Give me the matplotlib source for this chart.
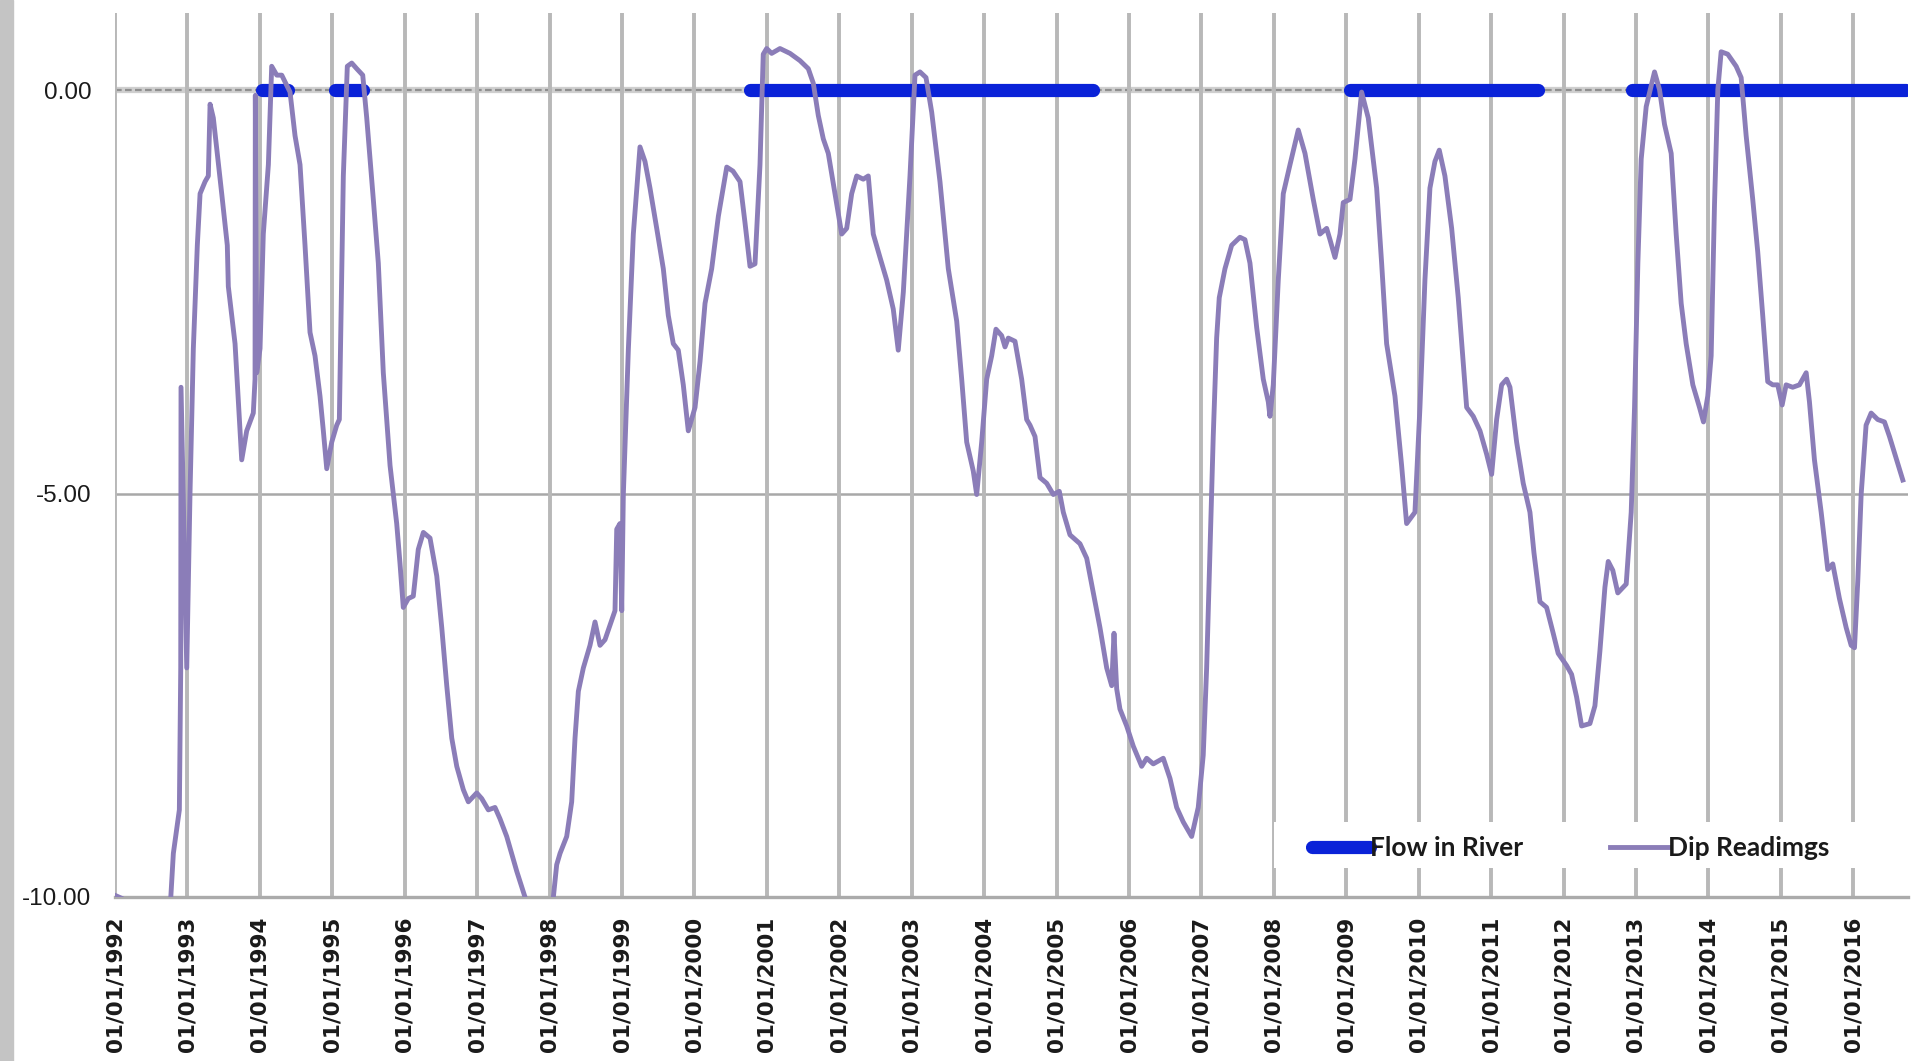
import matplotlib.pyplot as plt
import matplotlib.transforms as mtransforms
from matplotlib.lines import Line2D
from matplotlib.patches import Rectangle

# dip readings (decimal year, level)
dip_years = [
    1992.000, 1992.100, 1992.300, 1992.550, 1992.700, 1992.759, 1992.805, 1992.888,
    1992.907, 1992.911, 1992.990, 1993.035, 1993.081, 1993.136, 1993.174, 1993.243,
    1993.288, 1993.312, 1993.357, 1993.473, 1993.550, 1993.564, 1993.657, 1993.749,
    1993.818, 1993.909, 1993.933, 1993.937, 1993.956, 1994.002, 1994.047, 1994.117,
    1994.163, 1994.233, 1994.302, 1994.416, 1994.485, 1994.554, 1994.623, 1994.692,
    1994.761, 1994.830, 1994.876, 1994.923, 1994.992, 1995.061, 1995.097, 1995.152,
    1995.207, 1995.268, 1995.337, 1995.420, 1995.475, 1995.566, 1995.635, 1995.704,
    1995.797, 1995.889, 1995.935, 1995.980, 1996.049, 1996.118, 1996.187, 1996.257,
    1996.349, 1996.442, 1996.511, 1996.580, 1996.649, 1996.718, 1996.809, 1996.878,
    1996.994, 1997.063, 1997.154, 1997.246, 1997.315, 1997.408, 1997.546, 1997.660,
    1997.800, 1997.940, 1998.052, 1998.098, 1998.144, 1998.236, 1998.305, 1998.351,
    1998.397, 1998.466, 1998.558, 1998.627, 1998.696, 1998.765, 1998.834, 1998.903,
    1998.927, 1998.972, 1998.996, 1999.018, 1999.087, 1999.156, 1999.248, 1999.317,
    1999.386, 1999.479, 1999.570, 1999.639, 1999.708, 1999.777, 1999.846, 1999.915,
    2000.008, 2000.077, 2000.146, 2000.238, 2000.330, 2000.446, 2000.532, 2000.629,
    2000.698, 2000.767, 2000.836, 2000.905, 2000.950, 2000.997, 2001.066, 2001.181,
    2001.319, 2001.457, 2001.572, 2001.641, 2001.710, 2001.779, 2001.848, 2001.941,
    2002.033, 2002.102, 2002.171, 2002.240, 2002.331, 2002.400, 2002.469, 2002.562,
    2002.654, 2002.745, 2002.814, 2002.884, 2002.976, 2003.045, 2003.114, 2003.197,
    2003.276, 2003.390, 2003.505, 2003.621, 2003.690, 2003.759, 2003.850, 2003.897,
    2003.966, 2004.035, 2004.104, 2004.163, 2004.242, 2004.288, 2004.333, 2004.426,
    2004.518, 2004.587, 2004.633, 2004.702, 2004.771, 2004.863, 2004.955, 2005.038,
    2005.093, 2005.185, 2005.323, 2005.416, 2005.507, 2005.599, 2005.692, 2005.761,
    2005.793, 2005.830, 2005.875, 2005.968, 2006.059, 2006.175, 2006.244, 2006.335,
    2006.473, 2006.566, 2006.658, 2006.749, 2006.865, 2006.956, 2007.025, 2007.072,
    2007.118, 2007.163, 2007.210, 2007.246, 2007.325, 2007.417, 2007.532, 2007.601,
    2007.670, 2007.763, 2007.854, 2007.923, 2007.946, 2007.992, 2008.061, 2008.130,
    2008.223, 2008.337, 2008.430, 2008.544, 2008.637, 2008.729, 2008.775, 2008.844,
    2008.913, 2008.958, 2009.051, 2009.120, 2009.212, 2009.303, 2009.419, 2009.488,
    2009.557, 2009.672, 2009.764, 2009.833, 2009.948, 2010.017, 2010.086, 2010.155,
    2010.224, 2010.284, 2010.362, 2010.455, 2010.546, 2010.662, 2010.753, 2010.846,
    2010.938, 2011.007, 2011.076, 2011.145, 2011.214, 2011.260, 2011.352, 2011.443,
    2011.536, 2011.591, 2011.674, 2011.766, 2011.857, 2011.926, 2012.042, 2012.111,
    2012.180, 2012.249, 2012.364, 2012.433, 2012.502, 2012.571, 2012.617, 2012.680,
    2012.749, 2012.865, 2012.934, 2012.980, 2013.026, 2013.072, 2013.141, 2013.256,
    2013.325, 2013.394, 2013.486, 2013.555, 2013.624, 2013.693, 2013.785, 2013.877,
    2013.932, 2013.991, 2014.038, 2014.084, 2014.130, 2014.176, 2014.267, 2014.383,
    2014.452, 2014.521, 2014.612, 2014.681, 2014.750, 2014.819, 2014.888, 2014.957,
    2015.018, 2015.073, 2015.164, 2015.257, 2015.350, 2015.395, 2015.464, 2015.557,
    2015.648, 2015.717, 2015.809, 2015.902, 2015.971, 2016.017, 2016.062, 2016.109,
    2016.177, 2016.247, 2016.338, 2016.431, 2016.500, 2016.598, 2016.684,
]
dip_levels = [
    -9.98, -10.02, -10.8, -11.0, -10.6, -10.17, -9.46, -8.92,
    -7.16, -3.68, -7.16, -5.00, -3.20, -1.92, -1.28, -1.13,
    -1.06, -0.17, -0.34, -1.28, -1.92, -2.43, -3.14, -4.58,
    -4.22, -4.00, -3.58, -0.06, -3.50, -3.20, -1.78, -0.92,
    0.30, 0.19, 0.19, -0.02, -0.56, -0.92, -1.92, -3.00,
    -3.29, -3.79, -4.22, -4.69, -4.36, -4.15, -4.08, -1.06,
    0.30, 0.34, 0.27, 0.19, -0.34, -1.35, -2.14, -3.50,
    -4.65, -5.37, -5.87, -6.41, -6.30, -6.27, -5.69, -5.48,
    -5.55, -6.02, -6.66, -7.38, -8.03, -8.38, -8.67, -8.82,
    -8.71, -8.78, -8.92, -8.89, -9.03, -9.25, -9.68, -10.00,
    -10.40, -10.30, -10.00, -9.60, -9.46, -9.25, -8.82, -8.03,
    -7.45, -7.16, -6.88, -6.59, -6.88, -6.81, -6.63, -6.45,
    -5.44, -5.37, -6.45, -5.01, -3.22, -1.78, -0.70, -0.88,
    -1.21, -1.71, -2.21, -2.79, -3.14, -3.22, -3.65, -4.22,
    -3.93, -3.36, -2.64, -2.21, -1.56, -0.95, -1.00, -1.13,
    -1.64, -2.18, -2.15, -0.92, 0.45, 0.52, 0.46, 0.52,
    0.46, 0.37, 0.27, 0.09, -0.31, -0.60, -0.78, -1.28,
    -1.78, -1.71, -1.28, -1.06, -1.10, -1.06, -1.78, -2.07,
    -2.35, -2.71, -3.22, -2.50, -1.06, 0.19, 0.23, 0.16,
    -0.27, -1.13, -2.21, -2.86, -3.58, -4.36, -4.72, -5.01,
    -4.36, -3.58, -3.29, -2.96, -3.04, -3.18, -3.07, -3.11,
    -3.58, -4.08, -4.15, -4.29, -4.80, -4.87, -5.01, -4.97,
    -5.23, -5.51, -5.62, -5.80, -6.23, -6.66, -7.16, -7.38,
    -6.73, -7.42, -7.67, -7.88, -8.13, -8.38, -8.28, -8.35,
    -8.28, -8.53, -8.89, -9.07, -9.25, -8.89, -8.24, -7.16,
    -5.73, -4.29, -3.07, -2.57, -2.21, -1.92, -1.82, -1.85,
    -2.14, -2.94, -3.58, -3.86, -4.04, -3.65, -2.35, -1.28,
    -0.92, -0.49, -0.78, -1.35, -1.78, -1.71, -1.85, -2.07,
    -1.78, -1.39, -1.35, -0.85, -0.02, -0.34, -1.21, -2.14,
    -3.14, -3.79, -4.65, -5.37, -5.23, -3.93, -2.35, -1.21,
    -0.88, -0.74, -1.06, -1.71, -2.57, -3.93, -4.04, -4.22,
    -4.51, -4.76, -4.08, -3.65, -3.58, -3.68, -4.36, -4.87,
    -5.23, -5.73, -6.34, -6.41, -6.73, -6.98, -7.13, -7.24,
    -7.52, -7.88, -7.85, -7.63, -6.95, -6.16, -5.84, -5.95,
    -6.23, -6.12, -5.23, -3.93, -2.14, -0.85, -0.20, 0.23,
    0.01, -0.42, -0.78, -1.78, -2.64, -3.14, -3.65, -3.93,
    -4.11, -3.79, -3.29, -1.42, 0.01, 0.48, 0.45, 0.30,
    0.16, -0.56, -1.35, -2.00, -2.79, -3.61, -3.65, -3.65,
    -3.90, -3.65, -3.68, -3.65, -3.50, -3.86, -4.58, -5.23,
    -5.94, -5.87, -6.30, -6.66, -6.88, -6.91, -6.09, -5.01,
    -4.15, -4.00, -4.08, -4.11, -4.29, -4.58, -4.83,
]

# periods with flow in the river (decimal years)
flow_start = [1994.025, 1995.037, 2000.767, 2009.051, 2012.940]
flow_end = [1994.393, 1995.428, 2005.507, 2011.651, 2016.735]

tick_years = list(range(1992, 2017))
tick_labels = ["01/01/%d" % y for y in tick_years]
y_ticks = [0, -5, -10]
y_labels = ["0.00", "-5.00", "-10.00"]

purple = "#8b7db8"
blue = "#0a22d8"

fig = plt.figure(figsize=(19.11, 10.61), dpi=100)
fig.patches.append(Rectangle((0, 0), 13 / 1911, 1, transform=fig.transFigure,
                             color="#c4c4c4", zorder=0))
ax = fig.add_axes([0.0602, 0.1546, 0.9382, 0.8331])

ax.set_xlim(1992, 2016.755)
ax.set_ylim(-10, 0.96)

# year gridlines
ax.set_xticks(tick_years)
ax.set_xticklabels(tick_labels, rotation=90, family="DejaVu Sans", weight="bold",
                   fontsize=15.5, color="#1a1a1a")
ax.grid(axis="x", color="#b8b8b8", lw=2.8, zorder=0)

ax.set_yticks(y_ticks)
ax.set_yticklabels(y_labels, family="Liberation Sans", fontsize=17.5, color="#1a1a1a")
shift = mtransforms.ScaledTranslation(0, -0.05, fig.dpi_scale_trans)
for lab in ax.get_yticklabels():
    lab.set_transform(lab.get_transform() + shift)
ax.axhline(-5, color="#a8a8a8", lw=1.8, zorder=1)

# zero line: light band with grey dashes
ax.axhline(0, color="#cfcfcf", lw=4.5, zorder=1)
ax.axhline(0, color="#8f8f8f", lw=1.6, dashes=(3, 1.5), zorder=1)

ax.tick_params(axis="x", length=0, pad=14)
ax.tick_params(axis="y", length=0, pad=17)
for side in ["left", "right", "top"]:
    ax.spines[side].set_visible(False)
ax.spines["bottom"].set_color("#ababab")
ax.spines["bottom"].set_linewidth(2.4)

for s, e in zip(flow_start, flow_end):
    ax.plot([s, e], [0, 0], color=blue, lw=9.5, solid_capstyle="round", zorder=3)

ax.plot(dip_years, dip_levels, color=purple, lw=3.5, zorder=4)

# white box behind the legend
ax.add_patch(Rectangle((0.6464, 0.0328), 0.3257, 0.052, transform=ax.transAxes,
                       facecolor="white", edgecolor="none", zorder=5))

handles = [
    Line2D([], [], color=blue, lw=9.5, solid_capstyle="round"),
    Line2D([], [], color=purple, lw=3.5),
]
leg = ax.legend(handles, ["Flow in River", "Dip Readimgs"], loc="center left",
                bbox_to_anchor=(0.6676, 0.0554), borderaxespad=0, borderpad=0, ncol=2,
                frameon=False, handlelength=2.2, handletextpad=0.0, columnspacing=3.3,
                prop={"family": "Lato", "weight": "bold", "size": 19})
leg.set_zorder(6)
for t in leg.get_texts():
    t.set_color("#1a1a1a")

fig.savefig("out.png", dpi=100)
